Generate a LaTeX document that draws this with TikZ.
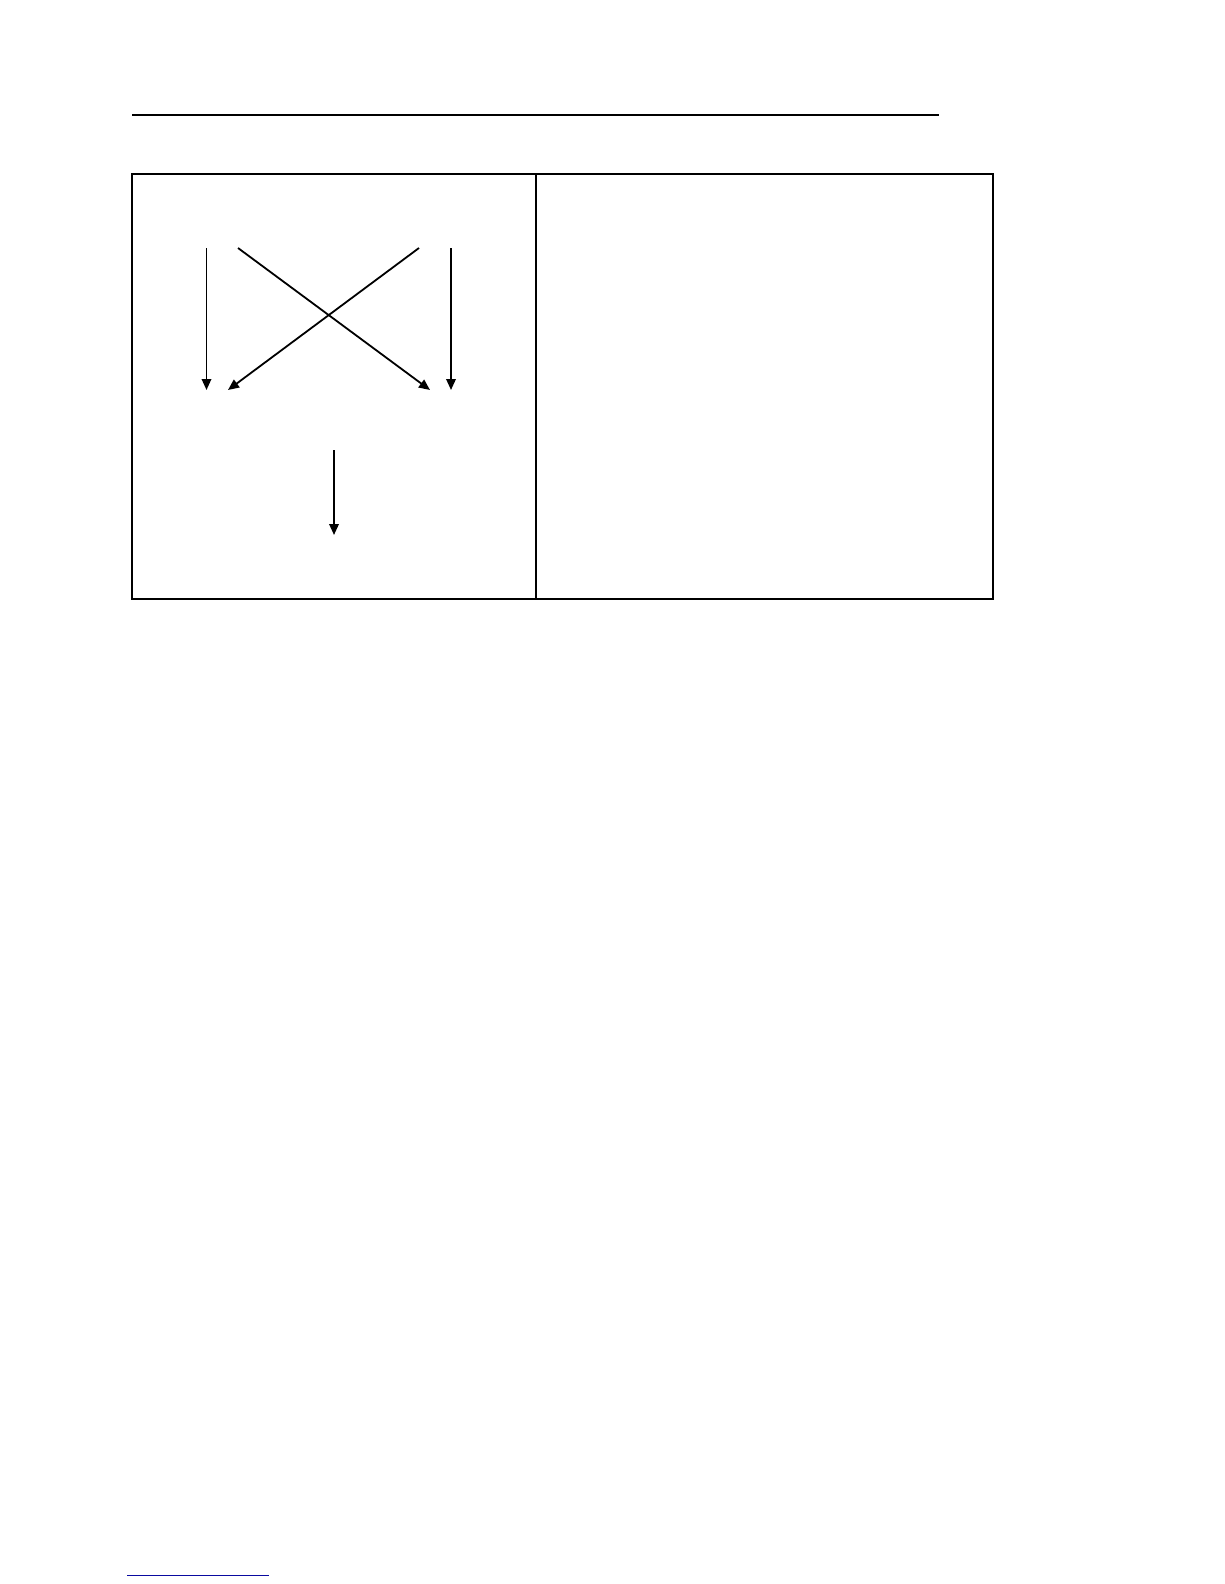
\documentclass[tikz,border=0pt]{standalone}
\usetikzlibrary{arrows.meta}
\definecolor{linkblue}{RGB}{10,10,160}
\begin{document}
\begin{tikzpicture}[x=1pt,y=-1pt,
  frame/.style={line width=1.5pt,black},
  arr/.style={line width=1.8pt,-{Triangle[length=11pt,width=9.5pt]}},
  rule/.style={line width=2pt,black}]
\useasboundingbox[fill=white] (0,0) rectangle (1224,1584);
% top rule
\coordinate (r1) at (132,115);
\coordinate (r2) at (939,115);
\draw[rule] (r1) -- (r2);
% table frame
\coordinate (tl) at (132,174);
\coordinate (br) at (993,599);
\coordinate (dt) at (536,174);
\coordinate (db) at (536,599);
\draw[frame] (tl) rectangle (br);
\draw[frame] (dt) -- (db);
% arrows
\coordinate (a1s) at (206.5,248);
\coordinate (a1e) at (206.5,390);
\coordinate (a2s) at (238,248);
\coordinate (a2e) at (430,390);
\coordinate (a3s) at (419,248);
\coordinate (a3e) at (228,390);
\coordinate (a4s) at (451,248);
\coordinate (a4e) at (451,390);
\coordinate (a5s) at (334,450);
\coordinate (a5e) at (334,535);
\draw[arr] (a1s) -- (a1e);
\draw[arr] (a2s) -- (a2e);
\draw[arr] (a3s) -- (a3e);
\draw[arr] (a4s) -- (a4e);
\draw[arr] (a5s) -- (a5e);
% footnote rule
\coordinate (f1) at (127,1575);
\coordinate (f2) at (269,1575);
\draw[line width=1pt,linkblue] (f1) -- (f2);
\end{tikzpicture}
\end{document}
